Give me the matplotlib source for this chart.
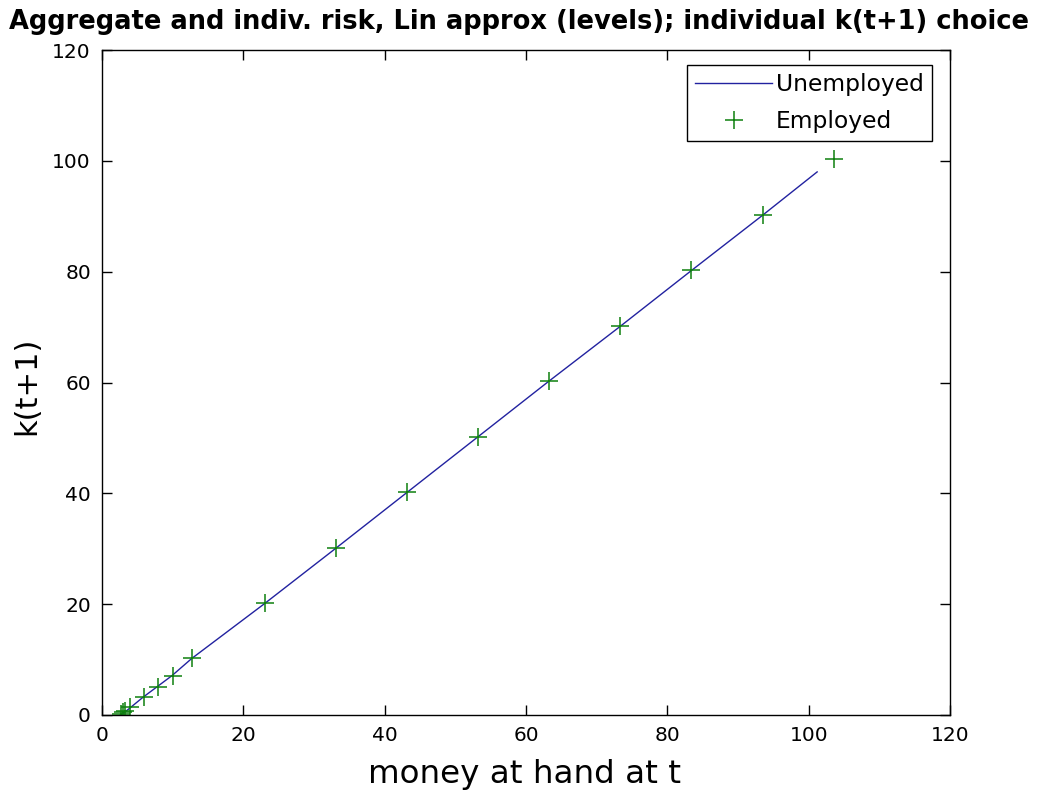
import matplotlib
matplotlib.use("Agg")
import matplotlib.pyplot as plt

plt.rcParams['font.family'] = ['DejaVu Sans']

# Data
unemp_money = [2.6, 3.0, 3.7, 5.8, 7.8, 9.9, 12.7, 22.9, 33.0, 43.0, 53.0, 63.0, 73.2, 83.2, 93.3, 101.2]
unemp_k = [0.0, 0.3, 1.0, 3.2, 5.1, 7.1, 10.2, 20.0, 30.0, 40.0, 50.0, 60.0, 70.0, 80.0, 90.0, 98.0]
emp_money = [2.7, 3.0, 3.3, 3.9, 5.9, 7.9, 10.0, 12.8, 23.0, 33.1, 43.2, 53.2, 63.2, 73.3, 83.4, 93.5, 103.6]
emp_k = [0.2, 0.5, 0.8, 1.4, 3.3, 5.1, 7.1, 10.3, 20.2, 30.2, 40.3, 50.2, 60.3, 70.2, 80.3, 90.3, 100.3]
ticks = [0, 20, 40, 60, 80, 100, 120]
title = 'Aggregate and indiv. risk, Lin approx (levels); individual k(t+1) choice'

W, H = 1038, 796
fig = plt.figure(figsize=(W / 100, H / 100), dpi=100)
ax = fig.add_axes([102 / W, 1 - 715 / H, 848 / W, 665 / H])
ax.plot(unemp_money, unemp_k, '-', color='#2222a0', lw=1.0, label='Unemployed')
ax.plot(emp_money, emp_k, '+', color='#0e800e', ms=13, mew=1.1, ls='none', label='Employed')
ax.set_xlim(0, 120)
ax.set_ylim(0, 120)
ax.set_xticks(ticks)
ax.set_yticks(ticks)
ax.tick_params(direction='in', top=True, right=True, labelsize=14.5, length=7, width=1, pad=8)
for s in ax.spines.values():
    s.set_linewidth(1.0)

renderer = fig.canvas.get_renderer()

def fit(t, target):
    bb = t.get_window_extent(renderer)
    t.set_fontsize(t.get_fontsize() * target / bb.width)

tt = fig.text(0.5, 1 - 22 / H, title, ha='center', va='center', fontsize=16, fontweight='bold')
fit(tt, 1025)
xl = fig.text(524 / W, 1 - 775 / H, 'money at hand at t', ha='center', va='center', fontsize=22)
fit(xl, 312)
fig.text(27 / W, 1 - 386 / H, 'k(t+1)', ha='center', va='center', rotation=90, fontsize=22)

leg = ax.legend(loc='upper right', bbox_to_anchor=((932 - 102) / 848, (715 - 65) / 665),
                fontsize=16.8, fancybox=False, edgecolor='black', framealpha=1,
                borderaxespad=0, handlelength=3.3, handletextpad=0.15, labelspacing=0.6,
                borderpad=0.35)
leg.get_frame().set_linewidth(1.0)
fig.savefig('out.png', dpi=100)
